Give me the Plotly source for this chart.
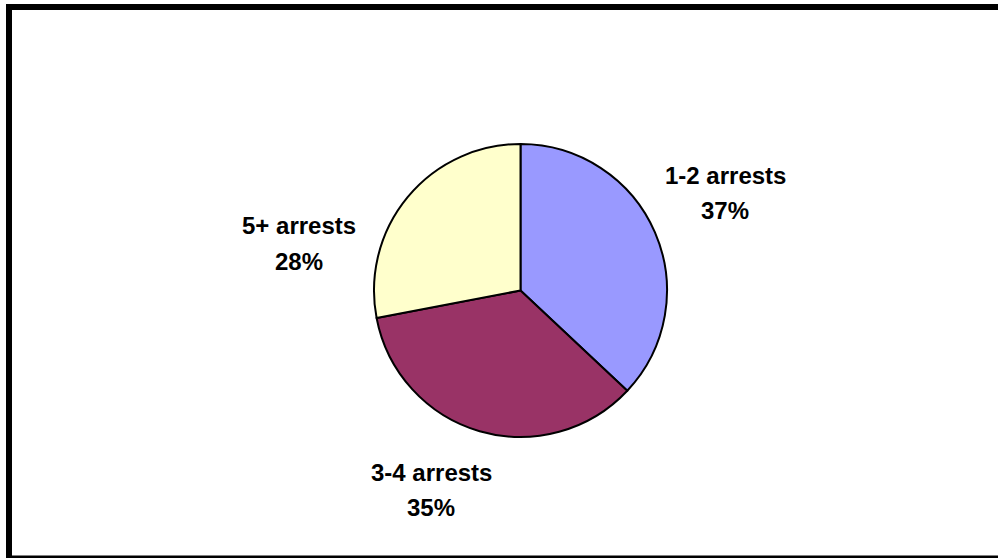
import plotly.graph_objects as go

# Arrest-count distribution
categories = ["1-2 arrests", "3-4 arrests", "5+ arrests"]
shares = [37, 35, 28]
colors = ["#9999FF", "#993366", "#FFFFCC"]

W, H = 998, 558


def px(x, y):
    """Pixel position -> paper coordinates."""
    return x / W, 1 - y / H


# Pie placement (pixels): centre and radius
cx, cy, r = 520.5, 290.5, 146.5
dom_x = [(cx - r) / W, (cx + r) / W]
dom_y = [1 - (cy + r) / H, 1 - (cy - r) / H]

fig = go.Figure(
    go.Pie(
        labels=categories,
        values=shares,
        sort=False,
        direction="clockwise",
        rotation=0,
        marker=dict(colors=colors, line=dict(color="black", width=2)),
        textinfo="none",
        hoverinfo="label+percent",
        domain=dict(x=dom_x, y=dom_y),
        showlegend=False,
    )
)

# Label anchors (pixel centres of the name line) for each slice
label_anchor = {
    "1-2 arrests": (725, 175),
    "3-4 arrests": (431, 472),
    "5+ arrests": (299, 226),
}
line_gap = 35
font = dict(family="Liberation Sans, Arial, sans-serif", size=24, color="black", weight="bold")

total = sum(shares)
annotations = []
for cat, val in zip(categories, shares):
    ax, ay = label_anchor[cat]
    for text, yy in ((cat, ay), (f"{round(100 * val / total)}%", ay + line_gap)):
        x, y = px(ax, yy)
        annotations.append(dict(
            x=x, y=y, xref="paper", yref="paper", text=text, showarrow=False,
            xanchor="center", yanchor="middle", font=font,
        ))

# Outer frame
x0, y0 = px(9, 7)
x1, y1 = px(1010, 558.5)
fig.add_shape(type="rect", xref="paper", yref="paper", x0=x0, y0=y1, x1=x1, y1=y0,
              line=dict(color="black", width=6), fillcolor="rgba(0,0,0,0)", layer="above")

fig.update_layout(
    width=W, height=H,
    margin=dict(l=0, r=0, t=0, b=0),
    paper_bgcolor="white", plot_bgcolor="white",
    annotations=annotations,
)

fig.write_html("out.html", config={"displayModeBar": False})
